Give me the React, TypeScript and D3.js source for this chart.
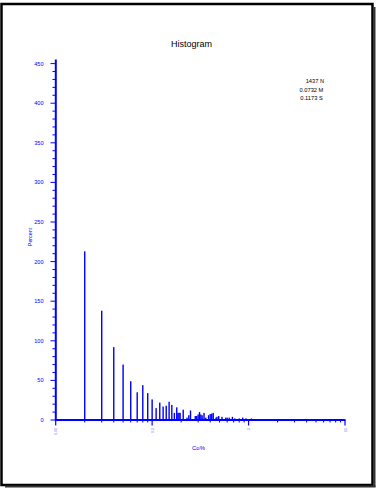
import React from "react";
import * as d3 from "d3";

const binValues = [0.02,0.03,0.04,0.05,0.06,0.07,0.08,0.09,0.1,0.11,0.12,0.13,0.14,0.15,0.16,0.17,0.18,0.185,0.19,0.195,0.21,0.23,0.24,0.25,0.28,0.29,0.3,0.31,0.32,0.33,0.345,0.36,0.385,0.4,0.415,0.43,0.46,0.47,0.49,0.53,0.58,0.6,0.63,0.68,0.72,0.8,0.87,0.94,1.07];
const binPercents = [213,138,92,70,49,35,44,34,26,15,22,17,18,23,19,9,16,9,9,9,13,3,6,12,5,5,7,10,7,6,9,3,6,7.5,8,9,3,4,5,4,3,3,3,4,2,2,3,2,2];
const yTicks = [0,50,100,150,200,250,300,350,400,450];
const xTickLabels = ["0.01","0.1","1","10"];
const xTickValues = [0.01,0.1,1,10];
const statLines = ["1437 N","0.0732 M","0.1173 S"];

export default function App() {
  const x = d3.scaleLog().domain([0.01, 10]).range([55.7, 345]);
  const y = d3.scaleLinear().domain([0, 450]).range([420, 63.6]);
  const blue = "#0000ff";
  const minorY = d3.range(0, 451, 10).filter((v) => v % 50 !== 0);
  const minorX: number[] = [];
  [0.01, 0.1, 1].forEach((d) => {
    for (let k = 2; k <= 9; k++) minorX.push(d * k);
  });
  const font = "'Liberation Sans', Arial, sans-serif";
  return (
    <svg width={378} height={489} style={{ position: "absolute", left: 0, top: 0, background: "#fff" }}>
      {/* frame with shadow */}
      <rect x={1.5} y={4} width={371} height={481} fill="#fff" stroke="#000" strokeWidth={2.5} />
      <line x1={374.5} y1={7} x2={374.5} y2={487} stroke="#333" strokeWidth={2} />
      <line x1={5} y1={486.5} x2={375.5} y2={486.5} stroke="#333" strokeWidth={2} />

      <text x={191.5} y={46.5} textAnchor="middle" fontFamily={font} fontSize={9} fill="#000">Histogram</text>
      {statLines.map((s, i) => (
        <text key={s} x={324 - (i === 2 ? 1.3 : i === 1 ? 0.7 : 0)} y={83.3 + i * 8.4} textAnchor="end" fontFamily={font} fontSize={5.7} fill="#000">{s}</text>
      ))}

      {/* bars */}
      {binValues.map((v, i) => (
        <rect key={i} x={x(v) - 0.7} y={y(binPercents[i])} width={1.4} height={y(0) - y(binPercents[i])} fill={blue} />
      ))}

      {/* y axis */}
      <line x1={55.8} y1={59.5} x2={55.8} y2={421} stroke={blue} strokeWidth={2} />
      {yTicks.map((t) => (
        <g key={t}>
          <line x1={50.5} x2={56} y1={y(t)} y2={y(t)} stroke={blue} strokeWidth={1} />
          <text x={43.5} y={y(t) + 2} textAnchor="end" fontFamily={font} fontSize={5.6} fill={blue}>{t}</text>
        </g>
      ))}
      {minorY.map((t) => (
        <line key={t} x1={52.5} x2={56} y1={y(t)} y2={y(t)} stroke={blue} strokeWidth={1} />
      ))}
      <text transform="translate(31.5,237) rotate(-90)" textAnchor="middle" fontFamily={font} fontSize={5.3} fill={blue}>Percent</text>

      {/* x axis */}
      <line x1={55} y1={420} x2={345.5} y2={420} stroke={blue} strokeWidth={2} />
      {xTickValues.map((t, i) => (
        <g key={t}>
          <line x1={x(t)} x2={x(t)} y1={420} y2={425.5} stroke={blue} strokeWidth={1.2} />
          <text transform={`translate(${x(t) + 1.5},428) rotate(-90)`} textAnchor="end" fontFamily={font} fontSize={3.5} fill={blue} opacity={0.6}>{xTickLabels[i]}</text>
        </g>
      ))}
      {minorX.map((t, i) => (
        <line key={i} x1={x(t)} x2={x(t)} y1={420} y2={422.5} stroke={blue} strokeWidth={1} />
      ))}
      <text x={198.5} y={449.5} textAnchor="middle" fontFamily={font} fontSize={5.9} fill={blue}>Co%</text>
    </svg>
  );
}
